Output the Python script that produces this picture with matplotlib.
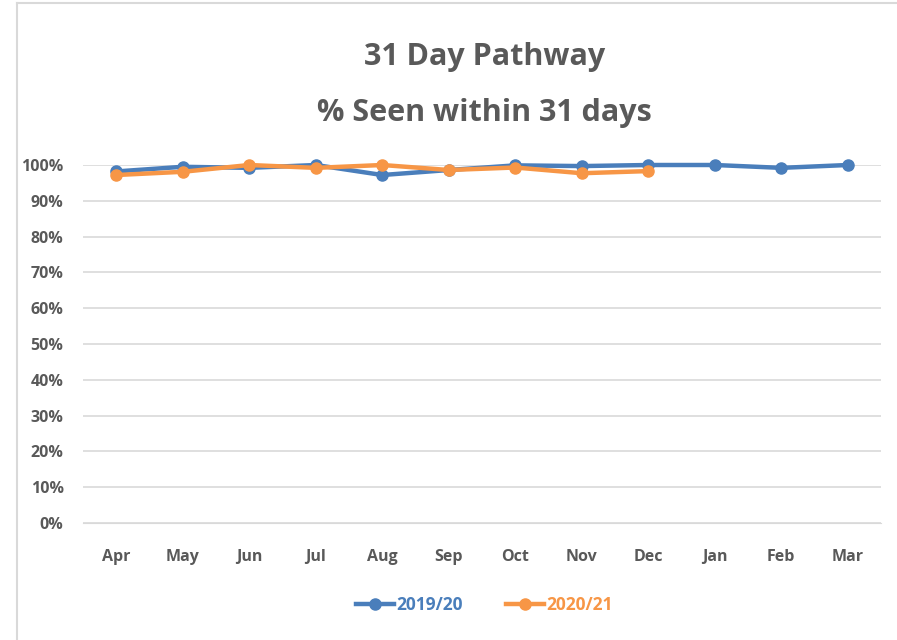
import matplotlib
matplotlib.use("Agg")
import matplotlib.pyplot as plt
from matplotlib.lines import Line2D
from matplotlib.ticker import PercentFormatter

# Monthly share of patients seen within 31 days
months = ["Apr", "May", "Jun", "Jul", "Aug", "Sep", "Oct", "Nov", "Dec", "Jan", "Feb", "Mar"]
seen_2019 = [0.982, 0.995, 0.992, 1.000, 0.972, 0.986, 0.999, 0.997, 1.000, 1.000, 0.992, 1.000]
seen_2020 = [0.972, 0.981, 1.000, 0.992, 1.000, 0.986, 0.993, 0.977, 0.983]

BLUE = "#4a7ebb"
ORANGE = "#f79646"
TEXT = "#595959"

plt.rcParams["font.family"] = ["Open Sans", "DejaVu Sans"]

fig = plt.figure(figsize=(8.97, 6.4), dpi=100)
fig.patch.set_facecolor("white")

# chart frame (left and top edges only)
fig.add_artist(Line2D([17 / 897, 17 / 897], [0, 1 - 3 / 640], color="#d9d9d9", lw=1.5))
fig.add_artist(Line2D([17 / 897, 1], [1 - 3 / 640, 1 - 3 / 640], color="#d9d9d9", lw=1.5))

ax = fig.add_axes([83 / 897, 117 / 640, 798 / 897, 358 / 640])

x = list(range(len(months)))
ax.plot(x, seen_2019, color=BLUE, lw=3.2, marker="o", ms=8, label="2019/20", clip_on=False, zorder=3)
ax.plot(x[:len(seen_2020)], seen_2020, color=ORANGE, lw=3.2, marker="o", ms=8, label="2020/21",
        clip_on=False, zorder=4)

ax.set_xlim(-0.5, len(months) - 0.5)
ax.set_ylim(0, 1)
ax.set_yticks([i / 10 for i in range(11)])
ax.yaxis.set_major_formatter(PercentFormatter(1.0, decimals=0))
ax.set_xticks(x)
ax.set_xticklabels(months)

ax.grid(axis="y", color="#d9d9d9", lw=1.2)
ax.set_axisbelow(True)
for side in ["top", "right", "left", "bottom"]:
    ax.spines[side].set_visible(False)
ax.spines["bottom"].set_visible(True)
ax.spines["bottom"].set_color("#d9d9d9")
ax.tick_params(length=0, labelcolor=TEXT, labelsize=11.5)
ax.tick_params(axis="x", pad=19)
ax.tick_params(axis="y", pad=14)
for lab in ax.get_xticklabels() + ax.get_yticklabels():
    lab.set_fontweight("bold")

fig.text(0.54, 1 - 57 / 640, "31 Day Pathway", ha="center", va="center",
         fontsize=22, fontweight="bold", color=TEXT)
fig.text(0.54, 1 - 113 / 640, "% Seen within 31 days", ha="center", va="center",
         fontsize=22, fontweight="bold", color=TEXT)

leg = fig.legend(loc="center", bbox_to_anchor=(0.54, 1 - 605 / 640), ncol=2, frameon=False,
                 handlelength=2.2, columnspacing=2.5, handletextpad=0.1,
                 prop={"weight": "bold", "size": 12.5})
for text, color in zip(leg.get_texts(), [BLUE, ORANGE]):
    text.set_color(color)

fig.savefig("out.png", dpi=100)
